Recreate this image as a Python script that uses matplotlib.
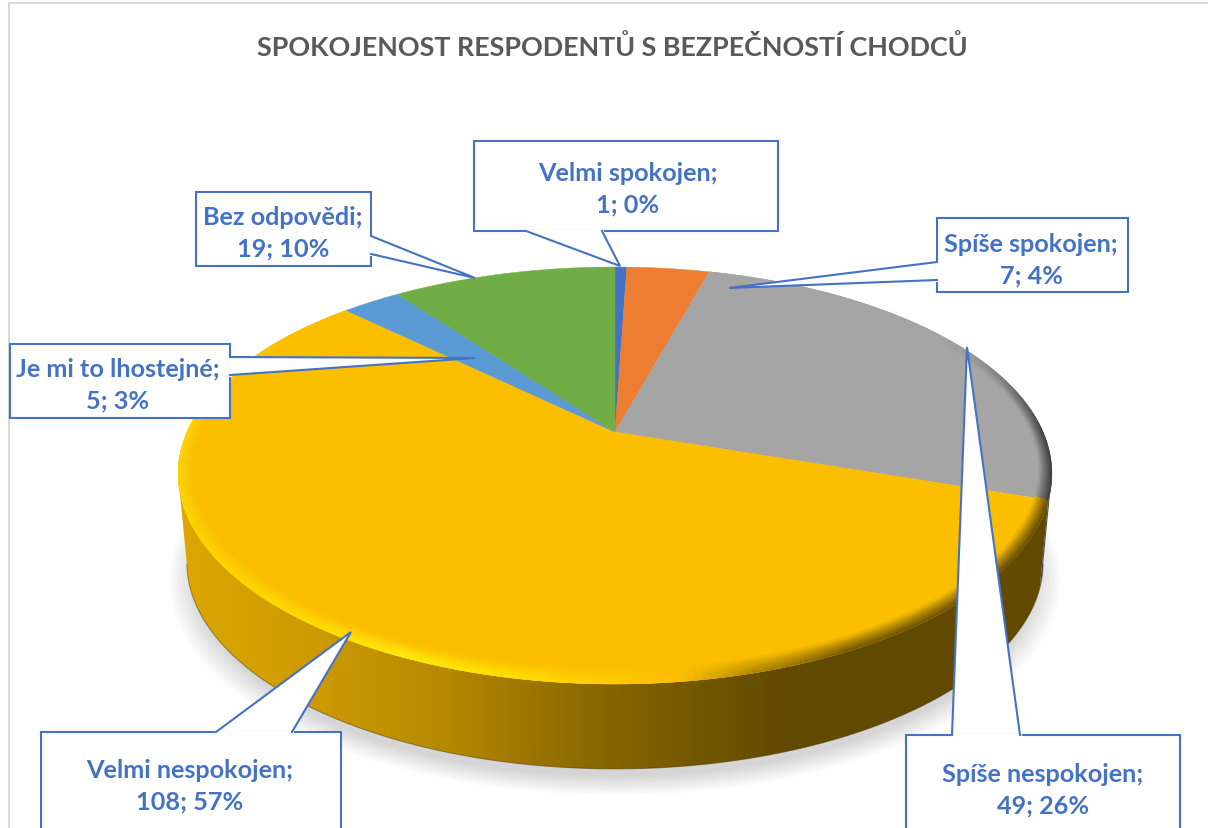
import numpy as np
import matplotlib
matplotlib.use("Agg")
import matplotlib.pyplot as plt
from matplotlib.patches import Polygon
from matplotlib.collections import PolyCollection
from matplotlib.colors import LinearSegmentedColormap, to_rgb

categories = ["Velmi spokojen", "Spíše spokojen", "Spíše nespokojen",
              "Velmi nespokojen", "Je mi to lhostejné", "Bez odpovědi"]
values = [1, 7, 49, 108, 5, 19]
percents = [0, 4, 26, 57, 3, 10]
colors = ["#4472C4", "#ED7D31", "#A5A5A5", "#FBBF00", "#5B9BD5", "#70AD47"]
title = "SPOKOJENOST RESPODENTŮ S BEZPEČNOSTÍ CHODCŮ"

# pie geometry in image pixels, perspective fitted on the reference
cx, cy = 615, 433
R, Rs = 428.0, 199.4
kx, ky = 0.20, 0.2086
low_scale, low_cy = 0.98, 523

# callouts: box, pointer (base, tip, base), text centre
boxes = [(474, 142, 778, 232), (937, 219, 1128, 293), (906, 736, 1180, 900),
         (41, 733, 341, 900), (10, 345, 230, 419), (196, 193, 371, 267)]
pointers = [[(526, 232), (620, 267), (602, 232)],
            [(937, 263), (729, 289), (937, 281)],
            [(952, 736), (967, 348), (1020, 736)],
            [(216, 733), (351, 633), (292, 733)],
            [(230, 358), (475, 359), (230, 376)],
            [(371, 237), (475, 279), (371, 255)]]
text_pos = [(628, 189), (1031, 260), (1043, 790), (190, 786), (118, 385), (283, 233)]

blue = "#4472C4"


def project(ang, ru=1.0, rv=1.0, yc=cy, scale=1.0):
    # angle in degrees clockwise from the top of the disc
    a = np.radians(ang)
    u = np.sin(a) * ru
    v = np.cos(a) * rv
    return cx + scale * R * u / (1 + kx * v), yc - scale * Rs * v / (1 + ky * v)


fig = plt.figure(figsize=(12.08, 8.29), dpi=100)
ax = fig.add_axes([0, 0, 1, 1])
ax.axis("off")

ends = np.cumsum(values) / sum(values) * 360
starts = np.concatenate([[0], ends[:-1]])

# soft shadow
th = np.linspace(0, 360, 361)
for e in np.linspace(-0.02, 0.04, 14):
    sx, sy = project(th, ru=1 + e, rv=1 + e, yc=low_cy + 14, scale=low_scale)
    ax.add_patch(Polygon(np.c_[sx, sy], fc="black", ec="none", alpha=0.012, zorder=1))

# side wall, horizontal gradient clipped to the outline
left_ang = 258
right_ang = 102
yel_start = starts[3]
th = np.linspace(yel_start, left_ang, 300)
tx, ty = project(th)
bx, by = project(th, yc=low_cy, scale=low_scale)
wall = Polygon(np.r_[np.c_[tx, ty], np.c_[bx, by][::-1]], fc="none", ec="none",
               transform=ax.transData)
ax.add_patch(wall)
stops = [(178, "#DCA700"), (300, "#CF9C00"), (450, "#B58800"), (500, "#A67C00"),
         (600, "#886600"), (700, "#725600"), (790, "#614900"), (1052, "#614900")]
cmap = LinearSegmentedColormap.from_list(
    "wall", [((x - 178) / (1052 - 178), c) for x, c in stops])
im = ax.imshow(np.linspace(0, 1, 512)[None, :], extent=(178, 1052, 800, 450),
               cmap=cmap, aspect="auto", zorder=2)
im.set_clip_path(wall)

th = np.linspace(right_ang, yel_start, 20)
tx, ty = project(th)
bx, by = project(th, yc=low_cy, scale=low_scale)
ax.add_patch(Polygon(np.r_[np.c_[tx, ty], np.c_[bx, by][::-1]], fc="#4a4a4a", ec="none", zorder=2))

th = np.linspace(right_ang, left_ang, 300)
bx, by = project(th, yc=low_cy, scale=low_scale)
ax.plot(bx, by, color="#4a3800", lw=0.8, alpha=0.45, zorder=3)

# top face
for s, e, c in zip(starts, ends, colors):
    th = np.linspace(s, e, max(int(e - s) * 3, 6))
    tx, ty = project(th)
    pts = np.r_[[[cx, cy]], np.c_[tx, ty]]
    ax.add_patch(Polygon(pts, fc=c, ec=c, lw=0.3, zorder=4))

# bevel on the rim of the two slices facing the viewer
rim_x = [178, 300, 400, 500, 615, 680, 750, 850, 1052]
rim_yellow = ["#FFD400", "#FFDD00", "#FFEE10", "#FFE400", "#FFCC00", "#FBBF00",
              "#B08600", "#6E5300", "#614900"]
rim_yellow = np.array([to_rgb(c) for c in rim_yellow])
layers = np.linspace(1, 0, 9)
quads, quad_cols = [], []
for idx, rim_cols in [(2, None), (3, rim_yellow)]:
    base = np.array(to_rgb(colors[idx]))
    th = np.linspace(starts[idx], ends[idx], 260)
    for a0, a1 in zip(th[:-1], th[1:]):
        mid = (a0 + a1) / 2
        mx, _ = project(mid)
        vv = np.cos(np.radians(mid))
        strength = np.interp(vv, [-1, 0.0, 0.55], [1, 1, 0])
        if rim_cols is None:
            target = np.array(to_rgb("#3c3c3c"))
            strength = strength * np.interp(mx, [900, 1020], [0, 1])
        else:
            target = np.array([np.interp(mx, rim_x, rim_cols[:, j]) for j in range(3)])
        for f0, f1 in zip(layers[:-1], layers[1:]):
            ru0, rv0 = 1 - 0.028 * (1 - f0), 1 - 0.05 * (1 - f0)
            ru1, rv1 = 1 - 0.028 * (1 - f1), 1 - 0.05 * (1 - f1)
            quads.append([project(a0, ru0, rv0), project(a1, ru0, rv0),
                          project(a1, ru1, rv1), project(a0, ru1, rv1)])
            w = strength * ((f0 + f1) / 2) ** 0.8
            quad_cols.append(base * (1 - w) + target * w)
ax.add_collection(PolyCollection(quads, facecolors=quad_cols, edgecolors="face",
                                 linewidths=0.4, zorder=5))

# callouts
for cat, val, pct, box, ptr, pos in zip(categories, values, percents, boxes, pointers, text_pos):
    x0, y0, x1, y1 = box
    ax.add_patch(Polygon(ptr, closed=False, fc="white", ec="none", zorder=6))
    ax.add_patch(Polygon([(x0, y0), (x1, y0), (x1, y1), (x0, y1)], fc="white", ec=blue,
                         lw=1.5, zorder=6))
    # white over the box edge where the pointer joins, then the pointer lines
    ax.plot([ptr[0][0], ptr[2][0]], [ptr[0][1], ptr[2][1]], color="white", lw=2.2, zorder=7)
    ax.plot([p[0] for p in ptr], [p[1] for p in ptr], color=blue, lw=1.5, zorder=8,
            solid_joinstyle="miter")
    ax.text(pos[0], pos[1], f"{cat};\n{val}; {pct}%", ha="center", va="center",
            color=blue, family="Lato", weight="bold", fontsize=18.2, linespacing=1.42, zorder=9)

# frame of the chart area
ax.plot([9, 9, 1208], [829, 4, 4], color="#D9D9D9", lw=1.5, zorder=0)

ax.text(612, 47, title, ha="center", va="center", color="#595959",
        family="Lato", weight="bold", fontsize=19.35, zorder=9)

ax.set_xlim(0, 1208)
ax.set_ylim(829, 0)
fig.savefig("out.png", dpi=100)
